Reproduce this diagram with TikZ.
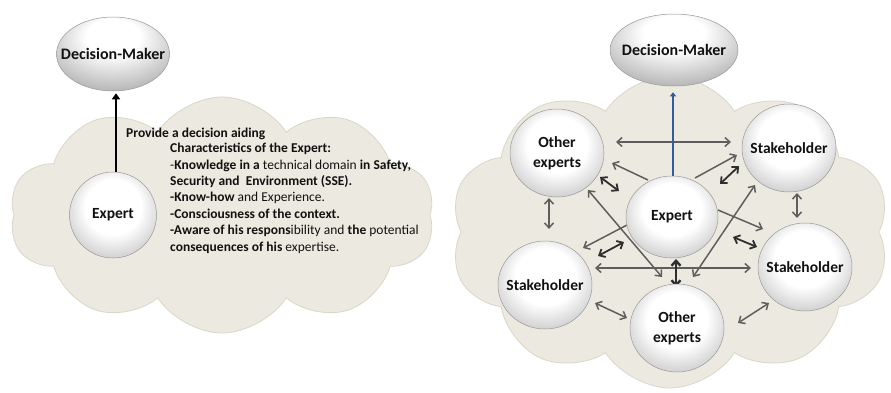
\documentclass[tikz,border=0pt]{standalone}
\usepackage{fontspec}
\setmainfont{Carlito}
\usetikzlibrary{shapes.symbols,shapes.geometric,arrows.meta,calc}
\definecolor{cloudfill}{HTML}{ECEAE0}
\definecolor{cloudline}{HTML}{D9D6CA}
\definecolor{arrgray}{HTML}{5E5E5E}
\definecolor{arrdark}{HTML}{2E2E2E}
\definecolor{bluearr}{HTML}{2F5F9A}
\definecolor{txt}{HTML}{111111}
\pgfdeclareradialshading{glossball}{\pgfpoint{0bp}{6bp}}{%
  color(0bp)=(white); color(16bp)=(white); color(30bp)=(black!20);
  color(42bp)=(black!42); color(50bp)=(black!60); color(70bp)=(black!65)}
\pgfdeclareradialshading{glossdm}{\pgfpoint{0bp}{14bp}}{%
  color(0bp)=(white); color(12bp)=(white); color(28bp)=(black!22);
  color(42bp)=(black!42); color(50bp)=(black!58); color(70bp)=(black!62)}
\tikzset{
  cloudbg/.style={cloud, cloud puffs=10, cloud puff arc=115, aspect=1.8,
    cloud ignores aspect, fill=cloudfill, draw=cloudline, line width=0.8pt, inner sep=0pt},
  ball/.style={ellipse, shading=glossball, draw=black!40, line width=0.5pt,
    minimum width=94pt, minimum height=88pt, inner xsep=-12pt, inner ysep=0pt, align=center,
    text=txt, font=\fontsize{15.5}{20}\selectfont\bfseries},
  dmnode/.style={ellipse, shading=glossdm, draw=black!40, line width=0.5pt,
    inner xsep=-16pt, inner ysep=0pt, text=txt, font=\fontsize{16}{19}\selectfont\bfseries},
  onearr/.style={draw=arrgray, line width=1.5pt, -{Straight Barb[length=5pt,width=9pt]}},
  twoarr/.style={draw=arrgray, line width=1.5pt, {Straight Barb[length=5pt,width=9pt]}-{Straight Barb[length=5pt,width=9pt]}},
  darkarr/.style={draw=arrdark, line width=1.8pt, {Straight Barb[length=5pt,width=9pt]}-{Straight Barb[length=5pt,width=9pt]}},
}
\begin{document}
\begin{tikzpicture}[x=1pt,y=-1pt]
\useasboundingbox[fill=white] (0,0) rectangle (891,392);

%% ---------------- left panel ----------------
\node[cloudbg, minimum width=425pt, minimum height=236pt] (cl1) at (222,215) {};
\node[dmnode, minimum width=113pt, minimum height=74pt] (dm1) at (113,54) {Decision-Maker};
\node[ball, minimum width=87pt, minimum height=86pt] (ex1) at (113,215) {Expert};
\draw[line width=2.8pt, black, -{Triangle[length=6pt,width=8pt]}] ([xshift=3pt]ex1.north) -- ([xshift=3pt,yshift=-2pt]dm1.south);
\node[anchor=base west, inner sep=0pt, text=txt, font=\fontsize{13.5}{16.4}\selectfont\bfseries] (prov) at (126,137) {Provide a decision aiding};
\node[anchor=north west, align=left, inner sep=0pt, text=txt, font=\fontsize{13.5}{16.4}\selectfont] (chars) at (170,143) {%
\textbf{Characteristics of the Expert:}\\
-\textbf{Knowledge in a} technical domain \textbf{in Safety,}\\
\textbf{Security and\ \ Environment (SSE).}\\
\textbf{-Know-how} and Experience.\\
\textbf{-Consciousness of the context.}\\
\textbf{-Aware of his respons}ibility and \textbf{the} potential\\
\textbf{consequences of his} expertise.};

%% ---------------- right panel ----------------
\node[cloudbg, minimum width=440pt, minimum height=312pt] (cl2) at (670,232) {};

% free ends of the floating connectors
\coordinate (h1a) at (616,142); \coordinate (h1b) at (731,142);
\coordinate (e2o) at (648,180); \coordinate (o1e) at (612,163);
\coordinate (e2s) at (695,178); \coordinate (s1e) at (737,155);
\coordinate (d4a) at (600,177); \coordinate (d4b) at (619,191);
\coordinate (d5a) at (720,184); \coordinate (d5b) at (739,166);
\coordinate (g1a) at (588,190); \coordinate (g1b) at (662,277);
\coordinate (g2a) at (755,185); \coordinate (g2b) at (693,277);
\coordinate (e2l) at (627,225); \coordinate (slE) at (583,248);
\coordinate (e2r) at (718,210); \coordinate (srE) at (763,229);
\coordinate (d10a) at (598,256); \coordinate (d10b) at (624,242);
\coordinate (d11a) at (733,237); \coordinate (d11b) at (757,247);
\coordinate (h2a) at (595,268); \coordinate (h2b) at (751,268);
\coordinate (v1a) at (676,259); \coordinate (v1b) at (676,287);
\coordinate (v2a) at (549,198); \coordinate (v2b) at (549,229);
\coordinate (v3a) at (797,193); \coordinate (v3b) at (797,218);
\coordinate (b1a) at (595,303); \coordinate (b1b) at (627,318);
\coordinate (b2a) at (738,323); \coordinate (b2b) at (769,303);

\draw[twoarr] (h1a) -- (h1b);
\draw[onearr] (e2o) -- (o1e);
\draw[onearr] (e2s) -- (s1e);
\draw[darkarr] (d4a) -- (d4b);
\draw[darkarr] (d5a) -- (d5b);
\draw[twoarr] (g1a) -- (g1b);
\draw[twoarr] (g2a) -- (g2b);
\draw[onearr] (e2l) -- (slE);
\draw[onearr] (e2r) -- (srE);
\draw[darkarr] (d10a) -- (d10b);
\draw[darkarr] (d11a) -- (d11b);
\draw[twoarr] (h2a) -- (h2b);
\draw[darkarr, line width=2.4pt] (v1a) -- (v1b);
\draw[twoarr] (v2a) -- (v2b);
\draw[twoarr] (v3a) -- (v3b);
\draw[twoarr] (b1a) -- (b1b);
\draw[twoarr] (b2a) -- (b2b);

\node[dmnode, minimum width=128pt, minimum height=72pt] (dm2) at (674,50) {Decision-Maker};
\node[ball, minimum width=92pt, minimum height=82pt] (ex2) at (672,217) {Expert};
\node[ball] (oe1) at (557,153) {Other\\experts};
\node[ball] (sh1) at (789,148) {Stakeholder};
\node[ball] (sh3) at (805,267) {Stakeholder};
\node[ball] (sh2) at (545,285) {Stakeholder};
\node[ball] (oe2) at (677,328) {Other\\experts};

\draw[draw=bluearr, line width=2.6pt, -{Triangle[length=4pt,width=6pt]}] ([xshift=1pt]ex2.north) -- ([xshift=-1pt,yshift=-6pt]dm2.south);
\end{tikzpicture}
\end{document}
